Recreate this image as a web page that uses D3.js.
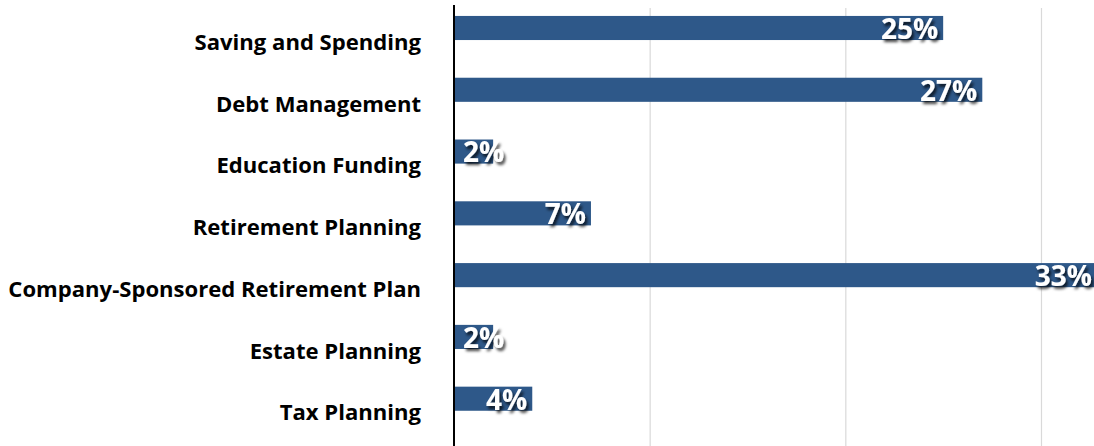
<!DOCTYPE html>
<html><head><meta charset="utf-8">
<script src="https://cdn.jsdelivr.net/npm/d3@7"></script>
<style>html,body{margin:0;padding:0;background:#fff;}svg{display:block;}</style>
</head><body>
<svg id="c" width="1094" height="446"></svg>
<script>
const categories = ["Saving and Spending","Debt Management","Education Funding","Retirement Planning","Company-Sponsored Retirement Plan","Estate Planning","Tax Planning"];
const values = [25, 27, 2, 7, 33, 2, 4];
const gridTicks = [10, 20, 30];

const svg = d3.select("#c");
const x = d3.scaleLinear().domain([0, 30]).range([454, 1041]);
const y = d3.scaleBand().domain(categories).range([-2.9, 429.6]).paddingInner(0.61).paddingOuter(0.305);

const defs = svg.append("defs");
const f = defs.append("filter").attr("id","sh").attr("x","-20%").attr("y","-30%").attr("width","150%").attr("height","180%");
f.append("feDropShadow").attr("dx",2).attr("dy",3).attr("stdDeviation",1.6).attr("flood-color","#000").attr("flood-opacity",0.75);
defs.append("clipPath").attr("id","clip").append("rect").attr("x",0).attr("y",0).attr("width",1094).attr("height",446);

svg.append("g").selectAll("line").data(gridTicks).join("line")
  .attr("x1", d=>x(d)+0.5).attr("x2", d=>x(d)+0.5).attr("y1",8).attr("y2",446)
  .attr("stroke","#d9d9d9").attr("stroke-width",1.2);

svg.append("g").attr("clip-path","url(#clip)").selectAll("rect").data(values).join("rect")
  .attr("x", x(0)).attr("y",(d,i)=>y(categories[i]))
  .attr("width", d=>Math.min(x(d),1094)-x(0)).attr("height", y.bandwidth())
  .attr("fill","#2e5889");

svg.append("line").attr("x1",x(0)).attr("x2",x(0)).attr("y1",5).attr("y2",446)
  .attr("stroke","#000").attr("stroke-width",2);

const cat = svg.append("g").selectAll("text").data(categories).join("text")
  .attr("y",d=>y(d)+y.bandwidth()/2+14).attr("dy","0.35em")
  .attr("text-anchor","end").attr("font-family","'Open Sans', Lato, sans-serif")
  .attr("font-weight","bold").attr("font-size",21).attr("fill","#000").text(d=>d);
let maxW = 0; cat.each(function(){ maxW = Math.max(maxW, this.getComputedTextLength()); });
const fs = 21 * 413 / maxW;
cat.attr("font-size", fs).attr("x", 421);

const lab = svg.append("g").selectAll("text").data(values).join("text")
  .attr("y",(d,i)=>y(categories[i])+y.bandwidth()/2+1).attr("dy","0.35em")
  .attr("text-anchor","start").attr("font-family","'Open Sans', Lato, sans-serif")
  .attr("font-weight","bold").attr("font-size",28).attr("fill","#fff")
  .attr("filter","url(#sh)").text(d=>d+"%");
lab.each(function(d){
  const w = this.getComputedTextLength();
  const right = Math.max(Math.min(x(d) - 5, 1092), x(0) + 9 + w);
  d3.select(this).attr("x", right - w);
});
</script>
</body></html>
